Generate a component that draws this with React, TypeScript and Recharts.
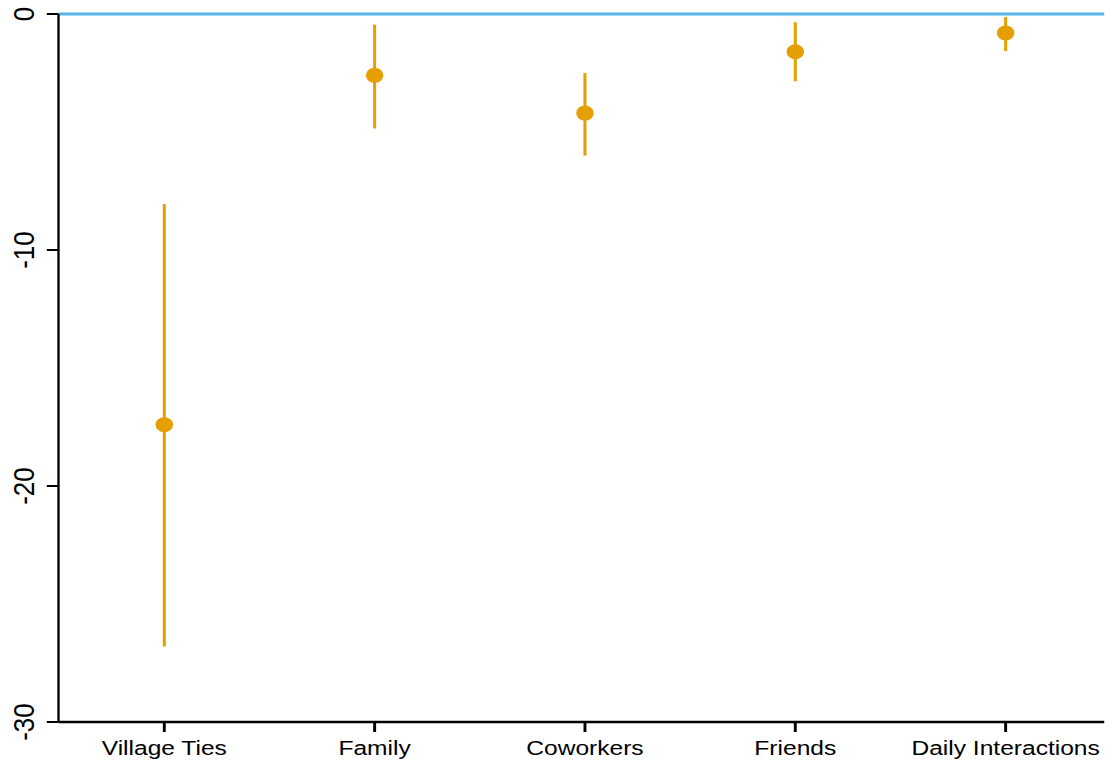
import { ComposedChart, Scatter, ErrorBar, XAxis, YAxis, ReferenceLine } from "recharts";

const categories = ["Village Ties", "Family", "Coworkers", "Friends", "Daily Interactions"];
const estimates = [-17.4, -2.6, -4.2, -1.6, -0.8];
const lowerCI = [-26.8, -4.85, -6.0, -2.85, -1.57];
const upperCI = [-8.05, -0.45, -2.5, -0.35, -0.13];
const yTicks = [0, -10, -20, -30];

const ORANGE = "#E69F00";
const FONT = "'Liberation Sans', Arial, Helvetica, sans-serif";

// the source image is stretched horizontally, so draw narrower and scale
const STRETCH = 1.17;
const W = 944;
const H = 766;

const data = categories.map((name, i) => ({
  x: i + 1,
  y: estimates[i],
  err: [estimates[i] - lowerCI[i], upperCI[i] - estimates[i]],
}));

const Dot = (props: any) => <circle cx={props.cx} cy={props.cy} r={7.5} fill={ORANGE} />;

const YTick = (props: any) => {
  const { y, payload } = props;
  return (
    <text
      x={29}
      y={y}
      transform={`rotate(-90, 29, ${y})`}
      textAnchor="middle"
      fontSize={26}
      fontFamily={FONT}
      fill="#000"
    >
      {payload.value}
    </text>
  );
};

export default function App() {
  return (
    <div
      style={{
        position: "absolute",
        top: 0,
        left: 0,
        width: W,
        height: H,
        transform: `scaleX(${STRETCH})`,
        transformOrigin: "0 0",
        background: "#fff",
      }}
    >
      <ComposedChart width={W} height={H} data={data} margin={{ top: 14, right: 0, bottom: 0, left: 0 }}>
        <XAxis
          dataKey="x"
          type="number"
          domain={[0.497, 5.47]}
          ticks={[1, 2, 3, 4, 5]}
          tickFormatter={(v: number) => categories[v - 1]}
          height={44}
          tickSize={10}
          tickMargin={8}
          interval={0}
          stroke="#000"
          strokeWidth={2.5}
          tick={{ fontSize: 21, fontFamily: FONT, fill: "#000" }}
        />
        <YAxis
          dataKey="y"
          type="number"
          domain={[-30, 0]}
          ticks={yTicks}
          width={50}
          tickSize={10}
          stroke="#000"
          strokeWidth={2}
          tick={<YTick />}
          interval={0}
        />
        <ReferenceLine y={0} stroke="#56B4E9" strokeWidth={3} />
        <Scatter dataKey="y" shape={<Dot />} isAnimationActive={false}>
          <ErrorBar dataKey="err" direction="y" width={0} stroke={ORANGE} strokeWidth={2.6} isAnimationActive={false} />
        </Scatter>
      </ComposedChart>
    </div>
  );
}
